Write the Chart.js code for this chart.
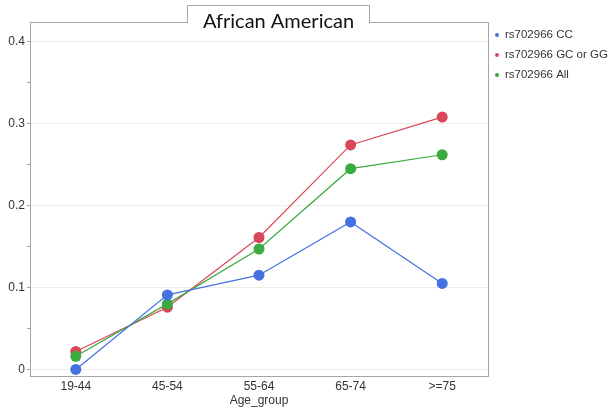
<!DOCTYPE html>
<html>
<head>
<meta charset="utf-8">
<script src="https://cdn.jsdelivr.net/npm/chart.js@4"></script>
<style>
  html, body { margin: 0; padding: 0; background: #fff; }
  #wrap { width: 613px; height: 412px; }
</style>
</head>
<body>
<div id="wrap"><canvas id="c" width="613" height="412"></canvas></div>
<script>
const ageGroups = ['19-44', '45-54', '55-64', '65-74', '>=75']
const cc = [0.0, 0.091, 0.115, 0.180, 0.105]
const gcOrGg = [0.022, 0.076, 0.161, 0.274, 0.308]
const all = [0.016, 0.080, 0.147, 0.245, 0.262]
const yTicks = [0, 0.05, 0.1, 0.15, 0.2, 0.25, 0.3, 0.35, 0.4]

const blue = '#4472e0'
const red = '#d9475a'
const green = '#3aab3f'

const isMajor = v => Math.abs(v * 10 - Math.round(v * 10)) < 1e-6

// plot frame + title tab + legend on the right
const decor = {
  id: 'decor',
  afterDraw(chart) {
    const ctx = chart.ctx
    const a = chart.chartArea
    ctx.save()
    ctx.strokeStyle = '#a6a6a6'
    ctx.lineWidth = 1
    ctx.strokeRect(a.left + 0.5, a.top + 0.5, a.right - a.left, a.bottom - a.top)

    // title tab
    const tx1 = 187, tx2 = 369, ty = 5
    ctx.fillStyle = '#fff'
    ctx.fillRect(tx1 + 1, ty + 1, tx2 - tx1 - 1, a.top - ty + 1)
    ctx.beginPath()
    ctx.moveTo(tx1 + 0.5, a.top + 0.5)
    ctx.lineTo(tx1 + 0.5, ty + 0.5)
    ctx.lineTo(tx2 + 0.5, ty + 0.5)
    ctx.lineTo(tx2 + 0.5, a.top + 0.5)
    ctx.stroke()
    ctx.fillStyle = '#111'
    ctx.font = '20px Lato, "Open Sans", sans-serif'
    ctx.textAlign = 'center'
    ctx.textBaseline = 'middle'
    ctx.fillText('African American', (tx1 + tx2) / 2 + 0.5, 22)

    // legend
    ctx.font = '11.5px "Liberation Sans", Arial, sans-serif'
    ctx.textAlign = 'left'
    chart.data.datasets.forEach((ds, i) => {
      const y = 35 + i * 20
      ctx.fillStyle = ds.borderColor
      ctx.beginPath()
      ctx.arc(497, y, 2, 0, Math.PI * 2)
      ctx.fill()
      ctx.fillStyle = '#333'
      ctx.fillText(ds.label, 505, y)
    })
    ctx.restore()
  }
}

new Chart(document.getElementById('c'), {
  type: 'line',
  data: {
    labels: ageGroups,
    datasets: [
      { label: 'rs702966 CC', data: cc, borderColor: blue, backgroundColor: blue, order: 0 },
      { label: 'rs702966 GC or GG', data: gcOrGg, borderColor: red, backgroundColor: red, order: 2 },
      { label: 'rs702966 All', data: all, borderColor: green, backgroundColor: green, order: 1 }
    ]
  },
  options: {
    responsive: false,
    animation: false,
    layout: { padding: { top: 22, right: 125, left: 0, bottom: 0 } },
    elements: {
      line: { borderWidth: 1.2, tension: 0 },
      point: { radius: 5.5, borderWidth: 0, hoverRadius: 5.5 }
    },
    plugins: {
      legend: { display: false },
      tooltip: { enabled: false }
    },
    scales: {
      x: {
        offset: true,
        afterFit: s => { s.height = 36 },
        grid: { display: false, drawTicks: false },
        border: { display: false },
        ticks: { color: '#333', font: { family: '"Liberation Sans", Arial', size: 12 }, padding: 3 },
        title: {
          display: true, text: 'Age_group', color: '#333',
          font: { family: '"Liberation Sans", Arial', size: 12 }, padding: { top: 3 }
        }
      },
      y: {
        min: -0.008,
        max: 0.424,
        afterFit: s => { s.width = 30 },
        afterBuildTicks: s => { s.ticks = yTicks.map(v => ({ value: v })) },
        border: { display: false },
        grid: {
          color: c => (c.tick && isMajor(c.tick.value)) ? '#ececec' : 'rgba(0,0,0,0)',
          tickColor: '#a6a6a6',
          tickLength: 3
        },
        ticks: {
          color: '#333',
          font: { family: '"Liberation Sans", Arial', size: 12 },
          padding: 2,
          callback: v => isMajor(v) ? String(Math.round(v * 10) / 10) : ''
        }
      }
    }
  },
  plugins: [decor]
})
</script>
</body>
</html>
